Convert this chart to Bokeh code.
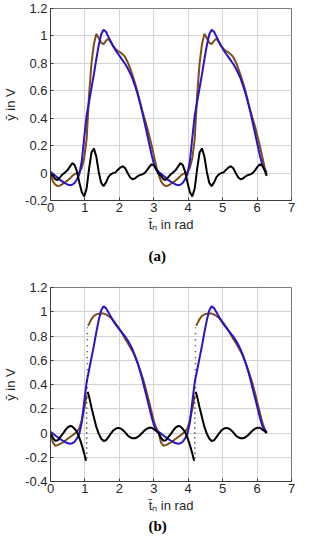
from bokeh.plotting import figure
from bokeh.layouts import column
from bokeh.models import FixedTicker, Title
from bokeh.embed import file_html
from bokeh.resources import INLINE

nan = float("nan")

# ---------------- axis ticks ----------------
x_ticks = [0, 1, 2, 3, 4, 5, 6, 7]
x_tick_labels = ["0", "1", "2", "3", "4", "5", "6", "7"]
y_ticks_a = [-0.2, 0, 0.2, 0.4, 0.6, 0.8, 1, 1.2]
y_tick_labels_a = ["-0.2", "0", "0.2", "0.4", "0.6", "0.8", "1", "1.2"]
y_ticks_b = [-0.4, -0.2, 0, 0.2, 0.4, 0.6, 0.8, 1, 1.2]
y_tick_labels_b = ["-0.4", "-0.2", "0", "0.2", "0.4", "0.6", "0.8", "1", "1.2"]

# ---------------- (a) data ----------------
t_a = [0.00, 0.07, 0.14, 0.21, 0.28, 0.35, 0.42, 0.49, 0.56, 0.63, 0.70, 0.77, 0.84, 0.91, 0.98,
       1.05, 1.12, 1.19, 1.26, 1.33, 1.40, 1.47, 1.54, 1.61, 1.68, 1.75, 1.82, 1.89, 1.96, 2.03,
       2.10, 2.17, 2.24, 2.31, 2.38, 2.45, 2.52, 2.59, 2.66, 2.73, 2.80, 2.87, 2.94, 3.01, 3.08,
       3.14, 3.21, 3.28, 3.35, 3.42, 3.49, 3.56, 3.63, 3.70, 3.77, 3.84, 3.91, 3.98, 4.05, 4.12,
       4.19, 4.26, 4.33, 4.40, 4.47, 4.54, 4.61, 4.68, 4.75, 4.82, 4.89, 4.96, 5.03, 5.10, 5.17,
       5.24, 5.31, 5.38, 5.45, 5.52, 5.59, 5.66, 5.73, 5.80, 5.87, 5.94, 6.01, 6.08, 6.15, 6.22,
       6.28]

y_ref_a = [0.01, -0.005, -0.02, -0.035, -0.05, -0.062, -0.074, -0.083, -0.088, -0.085, -0.072, -0.045, -0.005, 0.09, 0.26,
           0.42, 0.52, 0.62, 0.72, 0.83, 0.93, 1.01, 1.045, 1.03, 0.995, 0.96, 0.925, 0.895, 0.87, 0.845,
           0.82, 0.795, 0.765, 0.73, 0.69, 0.64, 0.585, 0.52, 0.45, 0.37, 0.29, 0.21, 0.13, 0.06, 0.025,
           0.01, -0.005, -0.02, -0.035, -0.05, -0.062, -0.074, -0.083, -0.088, -0.085, -0.072, -0.045, -0.005, 0.09, 0.26,
           0.42, 0.52, 0.62, 0.72, 0.83, 0.93, 1.01, 1.045, 1.03, 0.995, 0.96, 0.925, 0.895, 0.87, 0.845,
           0.82, 0.795, 0.765, 0.73, 0.69, 0.64, 0.585, 0.52, 0.45, 0.37, 0.29, 0.21, 0.13, 0.06, 0.025,
           0.005]

y_est_a = [-0.01, -0.06, -0.085, -0.095, -0.09, -0.08, -0.067, -0.055, -0.04, -0.022, -0.008, 0.0, 0.005, 0.04, 0.11,
           0.25, 0.57, 0.80, 0.94, 1.015, 0.985, 0.95, 0.94, 0.965, 0.98, 0.955, 0.925, 0.905, 0.89, 0.88,
           0.865, 0.845, 0.81, 0.765, 0.715, 0.66, 0.6, 0.53, 0.46, 0.40, 0.34, 0.27, 0.2, 0.12, 0.04,
           -0.01, -0.06, -0.085, -0.095, -0.09, -0.08, -0.067, -0.055, -0.04, -0.022, -0.008, 0.0, 0.005, 0.04, 0.11,
           0.25, 0.57, 0.80, 0.94, 1.015, 0.985, 0.95, 0.94, 0.965, 0.98, 0.955, 0.925, 0.905, 0.89, 0.88,
           0.865, 0.845, 0.81, 0.765, 0.715, 0.66, 0.6, 0.53, 0.46, 0.40, 0.34, 0.27, 0.2, 0.12, 0.04,
           -0.01]

y_err_a = [-0.005, -0.02, -0.045, -0.05, -0.03, -0.01, 0.005, 0.02, 0.045, 0.072, 0.06, 0.01, -0.07, -0.14, -0.17,
           -0.11, 0.03, 0.15, 0.18, 0.12, 0.01, -0.07, -0.095, -0.07, -0.03, -0.01, 0.0, 0.005, 0.025, 0.04,
           0.05, 0.035, 0.0, -0.03, -0.045, -0.04, -0.025, -0.015, -0.01, 0.0, 0.02, 0.045, 0.064, 0.055, 0.02,
           -0.005, -0.02, -0.045, -0.05, -0.03, -0.01, 0.005, 0.02, 0.045, 0.072, 0.06, 0.01, -0.07, -0.14, -0.17,
           -0.11, 0.03, 0.15, 0.18, 0.12, 0.01, -0.07, -0.095, -0.07, -0.03, -0.01, 0.0, 0.005, 0.025, 0.04,
           0.05, 0.035, 0.0, -0.03, -0.045, -0.04, -0.025, -0.015, -0.01, 0.0, 0.02, 0.045, 0.064, 0.055, 0.02,
           -0.02]

# ---------------- (b) data ----------------
t_ref_b = t_a
y_ref_b = y_ref_a

t_est_b = [0.00, 0.07, 0.14, 0.21, 0.28, 0.35, 0.42, 0.49, 0.56, 0.63, 0.70, 0.77, 0.84, 0.91, 0.98, 1.05,
           nan,
           1.09, 1.12, 1.19, 1.26, 1.33, 1.40, 1.47, 1.54, 1.61, 1.68, 1.75, 1.82, 1.89, 1.96, 2.03,
           2.10, 2.17, 2.24, 2.31, 2.38, 2.45, 2.52, 2.59, 2.66, 2.73, 2.80, 2.87, 2.94, 3.01, 3.08,
           3.14, 3.21, 3.28, 3.35, 3.42, 3.49, 3.56, 3.63, 3.70, 3.77, 3.84, 3.91, 3.98, 4.05, 4.12, 4.19,
           nan,
           4.23, 4.26, 4.33, 4.40, 4.47, 4.54, 4.61, 4.68, 4.75, 4.82, 4.89, 4.96, 5.03, 5.10, 5.17,
           5.24, 5.31, 5.38, 5.45, 5.52, 5.59, 5.66, 5.73, 5.80, 5.87, 5.94, 6.01, 6.08, 6.15, 6.22,
           6.28]
y_est_b = [0.0, -0.08, -0.105, -0.1, -0.09, -0.08, -0.065, -0.05, -0.035, -0.02, -0.005, 0.01, 0.04, 0.11, 0.2, 0.31,
           nan,
           0.885, 0.9, 0.94, 0.965, 0.978, 0.984, 0.986, 0.985, 0.978, 0.965, 0.95, 0.93, 0.905, 0.875, 0.845,
           0.81, 0.775, 0.745, 0.71, 0.675, 0.635, 0.585, 0.53, 0.47, 0.405, 0.33, 0.25, 0.17, 0.09, 0.035,
           0.0, -0.08, -0.105, -0.1, -0.09, -0.08, -0.065, -0.05, -0.035, -0.02, -0.005, 0.01, 0.04, 0.11, 0.2, 0.31,
           nan,
           0.885, 0.9, 0.94, 0.965, 0.978, 0.984, 0.986, 0.985, 0.978, 0.965, 0.95, 0.93, 0.905, 0.875, 0.845,
           0.81, 0.775, 0.745, 0.71, 0.675, 0.635, 0.585, 0.53, 0.47, 0.405, 0.33, 0.25, 0.17, 0.09, 0.035,
           0.0]

t_err_b = [0.00, 0.07, 0.14, 0.21, 0.28, 0.35, 0.42, 0.49, 0.56, 0.63, 0.70, 0.77, 0.84, 0.91, 0.98, 1.03,
           nan,
           1.08, 1.12, 1.19, 1.26, 1.33, 1.40, 1.47, 1.54, 1.61, 1.68, 1.75, 1.82, 1.89, 1.96, 2.03,
           2.10, 2.17, 2.24, 2.31, 2.38, 2.45, 2.52, 2.59, 2.66, 2.73, 2.80, 2.87, 2.94, 3.01, 3.08,
           3.14, 3.21, 3.28, 3.35, 3.42, 3.49, 3.56, 3.63, 3.70, 3.77, 3.84, 3.91, 3.98, 4.05, 4.12, 4.17,
           nan,
           4.22, 4.26, 4.33, 4.40, 4.47, 4.54, 4.61, 4.68, 4.75, 4.82, 4.89, 4.96, 5.03, 5.10, 5.17,
           5.24, 5.31, 5.38, 5.45, 5.52, 5.59, 5.66, 5.73, 5.80, 5.87, 5.94, 6.01, 6.08, 6.15, 6.22,
           6.28]
y_err_b = [0.0, -0.04, -0.065, -0.06, -0.035, -0.01, 0.02, 0.045, 0.057, 0.055, 0.035, 0.01, -0.04, -0.1, -0.17, -0.23,
           nan,
           0.34, 0.3, 0.21, 0.13, 0.05, -0.005, -0.045, -0.066, -0.06, -0.035, -0.005, 0.02, 0.035, 0.042, 0.038,
           0.025, 0.005, -0.02, -0.035, -0.043, -0.044, -0.035, -0.02, 0.0, 0.02, 0.035, 0.043, 0.043, 0.03, 0.015,
           0.0, -0.04, -0.065, -0.06, -0.035, -0.01, 0.02, 0.045, 0.057, 0.055, 0.035, 0.01, -0.04, -0.1, -0.17, -0.23,
           nan,
           0.34, 0.3, 0.21, 0.13, 0.05, -0.005, -0.045, -0.066, -0.06, -0.035, -0.005, 0.02, 0.035, 0.042, 0.038,
           0.025, 0.005, -0.02, -0.035, -0.043, -0.044, -0.035, -0.02, 0.0, 0.02, 0.035, 0.043, 0.043, 0.03, 0.015,
           0.0]

# jumps (drawn as sparse dots in the original)
jump_err_t = [1.05, 4.19]
jump_err_lo = [-0.21, -0.21]
jump_err_hi = [0.33, 0.33]
jump_est_t = [1.07, 4.21]
jump_est_lo = [0.32, 0.32]
jump_est_hi = [0.87, 0.87]

BLUE = "#2c12c8"
BROWN = "#7d4e16"
BLACK = "#000000"
TXT = "#262626"
FONT = "Liberation Sans"


def make_fig(height, top, bottom, y_range, y_ticks, y_labels, tag, tag_standoff):
    p = figure(width=302, height=height, x_range=(0, 7), y_range=y_range,
               output_backend="svg", toolbar_location=None,
               min_border_left=42, min_border_right=11,
               min_border_top=top, min_border_bottom=bottom,
               background_fill_color="white", border_fill_color="white")
    p.xaxis.ticker = FixedTicker(ticks=x_ticks)
    p.xgrid.ticker = FixedTicker(ticks=x_ticks)
    p.yaxis.ticker = FixedTicker(ticks=y_ticks)
    p.ygrid.ticker = FixedTicker(ticks=y_ticks)
    p.xaxis.major_label_overrides = dict(zip(x_ticks, x_tick_labels))
    p.yaxis.major_label_overrides = dict(zip(y_ticks, y_labels))
    for ax in (p.xaxis[0], p.yaxis[0]):
        ax.major_label_text_font = FONT
        ax.major_label_text_font_size = "13px"
        ax.major_label_text_color = TXT
        ax.axis_label_text_font = FONT
        ax.axis_label_text_font_size = "13px"
        ax.axis_label_text_font_style = "normal"
        ax.axis_label_text_color = TXT
        ax.axis_line_color = "#3a3a3a"
        ax.major_tick_line_color = "#3a3a3a"
        ax.major_tick_in = 3
        ax.major_tick_out = 0
        ax.minor_tick_line_color = None
    p.xaxis.major_label_standoff = 2
    p.yaxis.major_label_standoff = 3
    p.xaxis.axis_label_standoff = 2
    p.yaxis.axis_label_standoff = 4
    p.xaxis.axis_label = "t\u0304\u2099 in rad"
    p.yaxis.axis_label = "\u0233 in V"
    p.grid.grid_line_color = "#d4d4d4"
    p.grid.grid_line_width = 1
    p.outline_line_color = "#7a7a7a"
    p.add_layout(Title(text=tag, align="left", offset=98, text_font="Liberation Serif",
                       text_font_style="bold", text_font_size="15px", text_color="black",
                       standoff=tag_standoff), "below")
    return p


pa = make_fig(277, 8, 77, (-0.2, 1.2), y_ticks_a, y_tick_labels_a, "(a)", 23)
pa.line(t_a, y_est_a, line_color=BROWN, line_width=2)
pa.line(t_a, y_ref_a, line_color=BLUE, line_width=2)
pa.line(t_a, y_err_a, line_color=BLACK, line_width=2)

pb = make_fig(257, 10, 53, (-0.4, 1.2), y_ticks_b, y_tick_labels_b, "(b)", 0)
pb.line(t_est_b, y_est_b, line_color=BROWN, line_width=2)
pb.line(t_ref_b, y_ref_b, line_color=BLUE, line_width=2)
pb.line(t_err_b, y_err_b, line_color=BLACK, line_width=2)
pb.segment(x0=jump_est_t, y0=jump_est_lo, x1=jump_est_t, y1=jump_est_hi,
           line_color="#3a2a10", line_width=1.5, line_dash="1 5")
pb.segment(x0=jump_err_t, y0=jump_err_lo, x1=jump_err_t, y1=jump_err_hi,
           line_color=BLACK, line_width=1.5, line_dash="1 4")

layout = column(pa, pb, spacing=0)
open("out.html", "w").write(file_html(layout, INLINE))
